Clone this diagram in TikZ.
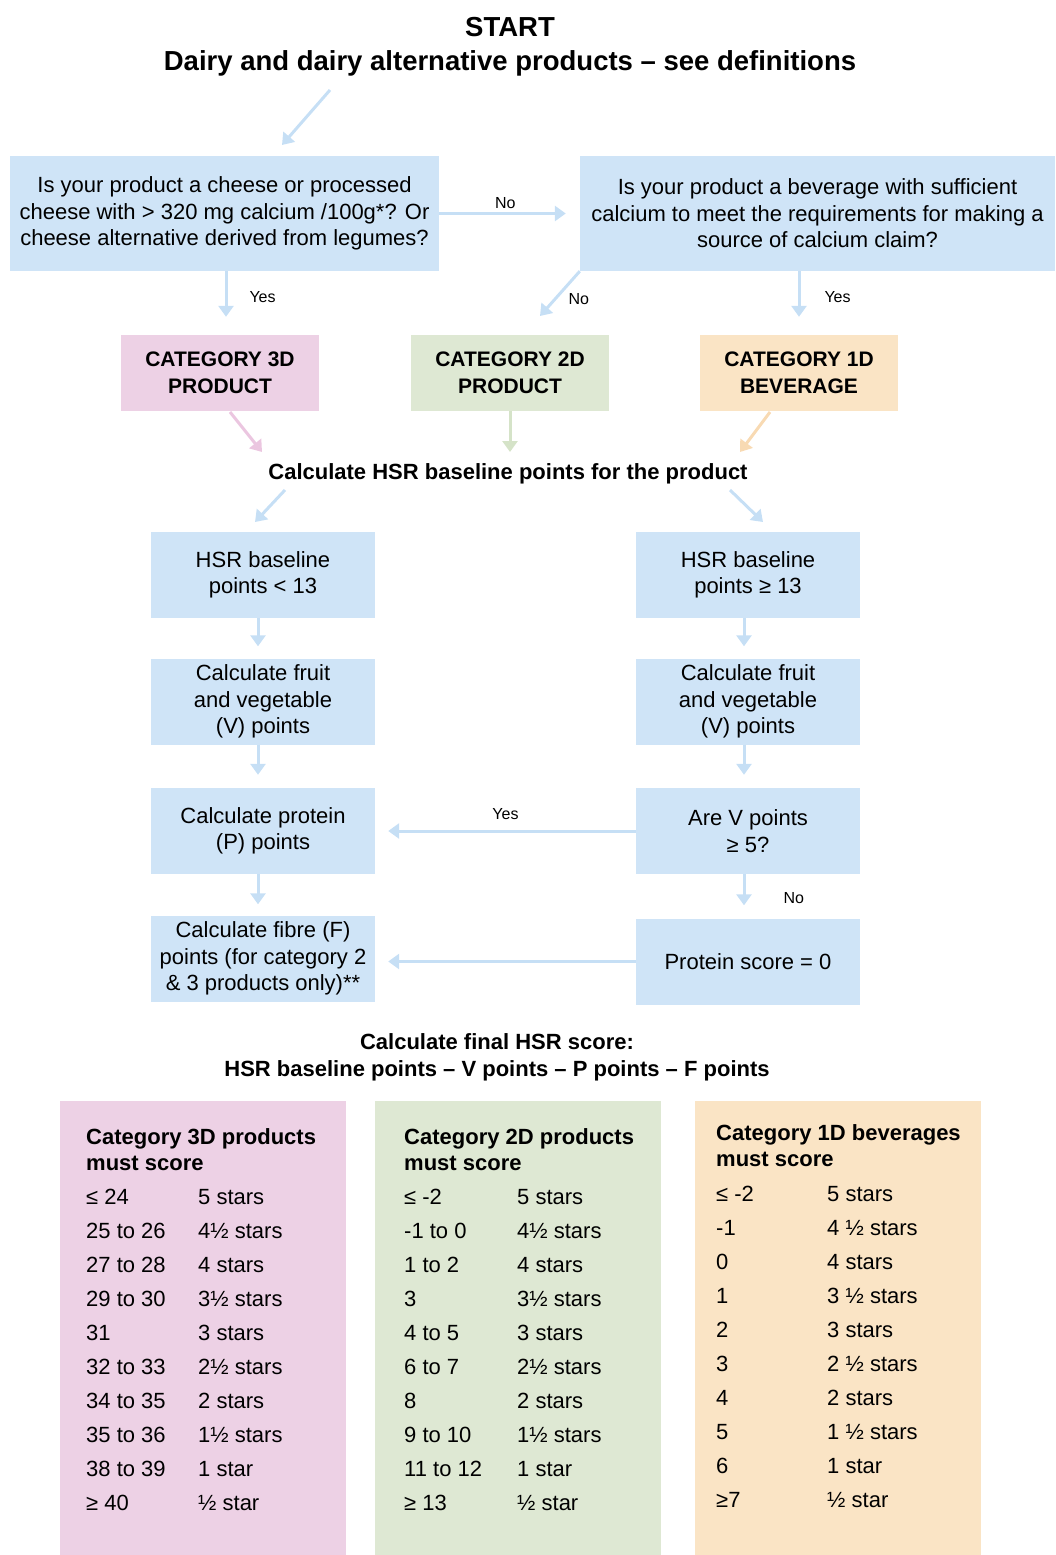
\documentclass[tikz,border=0pt]{standalone}
\usepackage{fontspec}
\setmainfont{Liberation Sans}
\usetikzlibrary{arrows.meta}
\definecolor{boxblue}{HTML}{CFE4F7}
\definecolor{arrblue}{HTML}{C6DFF5}
\definecolor{catpink}{HTML}{EDD1E5}
\definecolor{catgreen}{HTML}{DEE8D3}
\definecolor{catorange}{HTML}{FAE4C5}
\definecolor{arrpink}{HTML}{EBC6E0}
\definecolor{arrgreen}{HTML}{D5E3C8}
\definecolor{arrorange}{HTML}{F8DAB3}
\tikzset{>={Triangle[width=15pt,length=11pt]}}

\begin{document}
\begin{tikzpicture}[x=1pt, y=-1pt,
    every node/.style={inner sep=0pt, align=center, font=\fontsize{22}{26.5}\selectfont},
    qbox/.style={fill=boxblue, minimum width=224pt, minimum height=86pt},
    catbox/.style={minimum width=198pt, minimum height=76pt, font=\fontsize{21}{27}\selectfont\bfseries},
    heading/.style={font=\fontsize{22}{27}\selectfont\bfseries},
    lbl/.style={font=\fontsize{16}{18}\selectfont},
    flow/.style={->, line width=3pt, draw=arrblue},
    tabhead/.style={anchor=base west, align=left, font=\fontsize{22}{26}\selectfont\bfseries},
    tabcell/.style={anchor=base west}]
    \useasboundingbox (0,0) rectangle (1055,1555);

    % Nodes
    \node (start) [font=\fontsize{27.5}{34}\selectfont\bfseries] at (510,46.5) {START\\Dairy and dairy alternative products -- see definitions};
    \node (cheese) [qbox, minimum width=429pt, minimum height=115pt] at (224.5,213.5) {Is your product a cheese or processed\\cheese with > 320 mg calcium /100g*? Or\\cheese alternative derived from legumes?};
    \node (bev) [qbox, minimum width=475pt, minimum height=115pt] at (817.5,213.5) {Is your product a beverage with sufficient\\calcium to meet the requirements for making a\\source of calcium claim?};
    \node (cat3) [catbox, fill=catpink] at (220,373) {CATEGORY 3D\\PRODUCT};
    \node (cat2) [catbox, fill=catgreen] at (510,373) {CATEGORY 2D\\PRODUCT};
    \node (cat1) [catbox, fill=catorange] at (799,373) {CATEGORY 1D\\BEVERAGE};
    \node (base) [heading] at (508,474) {Calculate HSR baseline points for the product};
    \node (low) [qbox] at (263,575) {HSR baseline\\points < 13};
    \node (high) [qbox] at (748,575) {HSR baseline\\points ≥ 13};
    \node (fvL) [qbox] at (263,701.5) {Calculate fruit\\and vegetable\\(V) points};
    \node (fvR) [qbox] at (748,701.5) {Calculate fruit\\and vegetable\\(V) points};
    \node (prot) [qbox] at (263,831) {Calculate protein\\(P) points};
    \node (vq) [qbox] at (748,831) {Are V points\\≥ 5?};
    \node (fibre) [qbox] at (263,958.5) {Calculate fibre (F)\\points (for category 2\\\& 3 products only)**};
    \node (zero) [qbox] at (748,961.5) {Protein score = 0};
    \node (final) [heading] at (497,1057) {Calculate final HSR score:\\HSR baseline points -- V points -- P points -- F points};

    % Free arrow ends
    \coordinate (s1) at (330,90);
    \coordinate (s2) at (282,145);
    \coordinate (n2) at (540,316);
    \coordinate (p1) at (230,412);
    \coordinate (p2) at (262,452);
    \coordinate (o1) at (770,412);
    \coordinate (o2) at (740,452);
    \coordinate (b1) at (285,490);
    \coordinate (b2) at (255,522);
    \coordinate (b3) at (730,490);
    \coordinate (b4) at (763,522);

    % Arrows
    \draw[flow] (s1) -- (s2);
    \draw[flow, shorten >=14pt] (cheese.east) -- (bev.west) node[lbl, pos=0.47, above=3pt] (noA) {No};
    \draw[flow, shorten >=18pt] (cheese.south -| 226,0) -- (cat3.north -| 226,0) node[lbl, pos=0.4, right=22pt] (yesA) {Yes};
    \draw[flow] (bev.south west) -- (n2) node[lbl, pos=0.62, right=12pt] (noB) {No};
    \draw[flow, shorten >=18pt] (bev.south -| cat1) -- (cat1.north) node[lbl, pos=0.4, right=24pt] (yesB) {Yes};
    \draw[flow, draw=arrpink] (p1) -- (p2);
    \draw[flow, draw=arrgreen] (cat2.south) -- (cat2.south |- p2);
    \draw[flow, draw=arrorange] (o1) -- (o2);
    \draw[flow] (b1) -- (b2);
    \draw[flow] (b3) -- (b4);
    \draw[flow, shorten >=12pt] (low.south -| 258,0) -- (fvL.north -| 258,0);
    \draw[flow, shorten >=12pt] (high.south -| 744,0) -- (fvR.north -| 744,0);
    \draw[flow, shorten >=13pt] (fvL.south -| 258,0) -- (prot.north -| 258,0);
    \draw[flow, shorten >=13pt] (fvR.south -| 744,0) -- (vq.north -| 744,0);
    \draw[flow, shorten >=13pt] (vq.west) -- (prot.east) node[lbl, midway, above=10pt] (yesC) {Yes};
    \draw[flow, shorten >=11pt] (prot.south -| 258,0) -- (fibre.north -| 258,0);
    \draw[flow, shorten >=13pt] (vq.south -| 744,0) -- (zero.north -| 744,0) node[lbl, pos=0.55, right=38pt] (noC) {No};
    \draw[flow, shorten >=13pt] (zero.west) -- (zero.west -| fibre.east);

    % Score tables
    \node (t3) [fill=catpink, minimum width=286pt, minimum height=454pt, anchor=north west] at (60,1101) {};
    \node (t2) [fill=catgreen, minimum width=286pt, minimum height=454pt, anchor=north west] at (375,1101) {};
    \node (t1) [fill=catorange, minimum width=286pt, minimum height=454pt, anchor=north west] at (695,1101) {};
    \node (h3) [tabhead] at (86,1170) {Category 3D products\\must score};
    \node (h2) [tabhead] at (404,1170) {Category 2D products\\must score};
    \node (h1) [tabhead] at (716,1166) {Category 1D beverages\\must score};
    \foreach \a/\b [count=\i from 0] in {≤ 24/5 stars, 25 to 26/4½ stars, 27 to 28/4 stars, 29 to 30/3½ stars, 31/3 stars, 32 to 33/2½ stars, 34 to 35/2 stars, 35 to 36/1½ stars, 38 to 39/1 star, ≥ 40/½ star}
    {
        \node (r3a\i) [tabcell] at (86,1204+34.1*\i) {\a};
        \node (r3b\i) [tabcell] at (198,1204+34.1*\i) {\b};
    }
    \foreach \a/\b [count=\i from 0] in {≤ -2/5 stars, -1 to 0/4½ stars, 1 to 2/4 stars, 3/3½ stars, 4 to 5/3 stars, 6 to 7/2½ stars, 8/2 stars, 9 to 10/1½ stars, 11 to 12/1 star, ≥ 13/½ star}
    {
        \node (r2a\i) [tabcell] at (404,1204+34.1*\i) {\a};
        \node (r2b\i) [tabcell] at (517,1204+34.1*\i) {\b};
    }
    \foreach \a/\b [count=\i from 0] in {≤ -2/5 stars, -1/4 ½ stars, 0/4 stars, 1/3 ½ stars, 2/3 stars, 3/2 ½ stars, 4/2 stars, 5/1 ½ stars, 6/1 star, ≥7/½ star}
    {
        \node (r1a\i) [tabcell] at (716,1201+34.1*\i) {\a};
        \node (r1b\i) [tabcell] at (827,1201+34.1*\i) {\b};
    }
\end{tikzpicture}
\end{document}
